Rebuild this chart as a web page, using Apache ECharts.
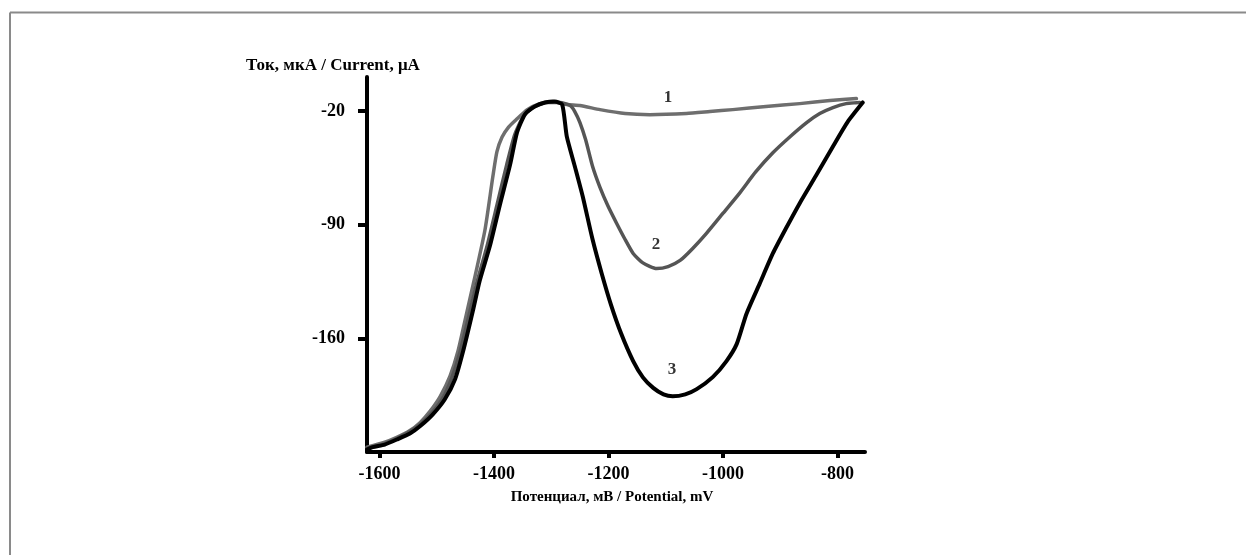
<!DOCTYPE html>
<html>
<head>
<meta charset="utf-8">
<script src="https://cdn.jsdelivr.net/npm/echarts@6/dist/echarts.min.js"></script>
<style>
html,body{margin:0;padding:0;background:#fff;}
#c{width:1246px;height:555px;}
</style>
</head>
<body>
<div id="c"></div>
<script>
// ---- data ----
const xTicks = [-1600, -1400, -1200, -1000, -800];
const yTicks = [-20, -90, -160];
const yTitle = 'Ток, мкА / Current, μA';
const xTitle = 'Потенциал, мВ / Potential, mV';

const curve1 = [
  [-1622,-227],[-1591,-224],[-1570,-221],[-1547,-216.8],[-1529,-211.8],[-1512,-205],
  [-1494,-195.7],[-1477,-183.3],[-1463,-167.8],[-1447,-143],[-1433,-121.3],[-1416,-93.4],
  [-1402,-60],[-1395,-45],[-1386,-36],[-1375,-30],[-1362,-25.5],[-1342,-19.1],[-1320,-15.4],[-1297,-14.1],
  [-1273,-16],[-1250,-16.6],[-1215,-19.1],[-1171,-21.5],[-1128,-22.2],[-1064,-21.5],
  [-1023,-20.3],[-983,-19.1],[-925,-17.2],[-866,-15.4],[-813,-13.5],[-767,-12.3]
];
const curve2 = [
  [-1622,-227.6],[-1591,-224.8],[-1570,-221.7],[-1547,-217.4],[-1529,-213],[-1508,-205.6],
  [-1489,-196.3],[-1474,-184.5],[-1460,-169],[-1444,-146],[-1430,-125.6],[-1412,-102.7],
  [-1395,-78],[-1378,-53.1],[-1364,-34.6],[-1348,-22.8],[-1329,-17.2],[-1308,-14.7],
  [-1285,-14.7],[-1267,-16.6],[-1259,-20.3],[-1250,-27.1],[-1240,-37.7],[-1228,-54],
  [-1215,-67],[-1201,-78.5],[-1186,-89.1],[-1172,-98.5],[-1157,-107.7],[-1140,-113.5],
  [-1116,-117],[-1096,-115.8],[-1075,-112],[-1053,-104.6],[-1029,-95.3],[-1000,-82.9],
  [-971,-70.5],[-943,-57.5],[-913,-45.7],[-883,-35.8],[-854,-27.1],[-831,-21.5],
  [-808,-17.8],[-785,-15.4],[-761,-14.7]
];
const curve3 = [
  [-1622,-228.5],[-1612,-227],[-1591,-225.4],[-1570,-222.3],[-1547,-218.6],[-1529,-214],
  [-1507,-206.8],[-1486,-197.5],[-1468,-185],[-1454,-167.8],[-1437,-143],[-1425,-124.4],
  [-1407,-102.7],[-1390,-78],[-1372,-53],[-1360,-33.3],[-1346,-22],[-1329,-17.2],
  [-1311,-14.7],[-1294,-14.1],[-1281,-16],[-1273,-35.6],[-1259,-54],[-1245,-72.8],
  [-1228,-99],[-1212,-120],[-1196,-139],[-1178,-157],[-1157,-174],[-1140,-184],
  [-1122,-190.5],[-1104,-194.5],[-1088,-195.7],[-1066,-194.5],[-1046,-191.3],
  [-1018,-183.9],[-994,-174],[-976,-163.4],[-959,-144.8],[-936,-126.3],[-913,-107.7],
  [-890,-92.2],[-866,-76.7],[-838,-60],[-808,-41.8],[-782,-26.5],[-756,-14.7]
];
const curveLabels = [[-1096,-11.5,'1'],[-1117,-102.5,'2'],[-1089,-179,'3']];

// ---- chart ----
const chart = echarts.init(document.getElementById('c'), null, {renderer:'canvas'});
const serif = '"Liberation Serif","DejaVu Serif",serif';
const lineSeries = (data, color, w) => ({
  type:'line', data, showSymbol:false, smooth:0.2, animation:false,
  lineStyle:{color, width:w, cap:'round', join:'round'}, z:2
});
chart.setOption({
  animation:false,
  backgroundColor:'#ffffff',
  grid:{left:367, right:381, top:77, bottom:103},
  xAxis:{
    type:'value', min:-1622, max:-752,
    splitLine:{show:false},
    axisLine:{show:true, onZero:false, lineStyle:{color:'#000', width:4}},
    axisTick:{show:true, customValues:xTicks, length:6, lineStyle:{color:'#000', width:4}},
    axisLabel:{show:true, customValues:xTicks, margin:13, formatter:v=>String(v),
      color:'#000', fontFamily:serif, fontWeight:'bold', fontSize:18}
  },
  yAxis:{
    type:'value', min:-230, max:1,
    splitLine:{show:false},
    axisLine:{show:true, onZero:false, lineStyle:{color:'#000', width:4}},
    axisTick:{show:true, customValues:yTicks, length:9, lineStyle:{color:'#000', width:4}},
    axisLabel:{show:true, customValues:yTicks, margin:22, formatter:v=>String(v),
      color:'#000', fontFamily:serif, fontWeight:'bold', fontSize:18}
  },
  series:[
    lineSeries(curve1, '#6e6e6e', 3.5),
    lineSeries(curve2, '#555555', 3.5),
    lineSeries(curve3, '#000000', 4),
    {
      type:'scatter', data:curveLabels, symbolSize:0, silent:true, z:5,
      label:{show:true, position:'inside', formatter:p=>p.value[2], color:'#000',
        fontFamily:serif, fontWeight:'bold', fontSize:17}
    }
  ],
  graphic:[
    {type:'line', shape:{x1:10, y1:12.5, x2:1246, y2:12.5}, style:{stroke:'#8a8a8a', lineWidth:2}},
    {type:'line', shape:{x1:10, y1:12.5, x2:10, y2:555}, style:{stroke:'#8a8a8a', lineWidth:2}},
    {type:'text', x:246, y:66, style:{text:yTitle, fill:'#000', font:'bold 17px ' + serif, verticalAlign:'middle'}},
    {type:'text', x:612, y:497, style:{text:xTitle, fill:'#000', font:'bold 15px ' + serif, align:'center', verticalAlign:'middle'}}
  ]
});
</script>
</body>
</html>
